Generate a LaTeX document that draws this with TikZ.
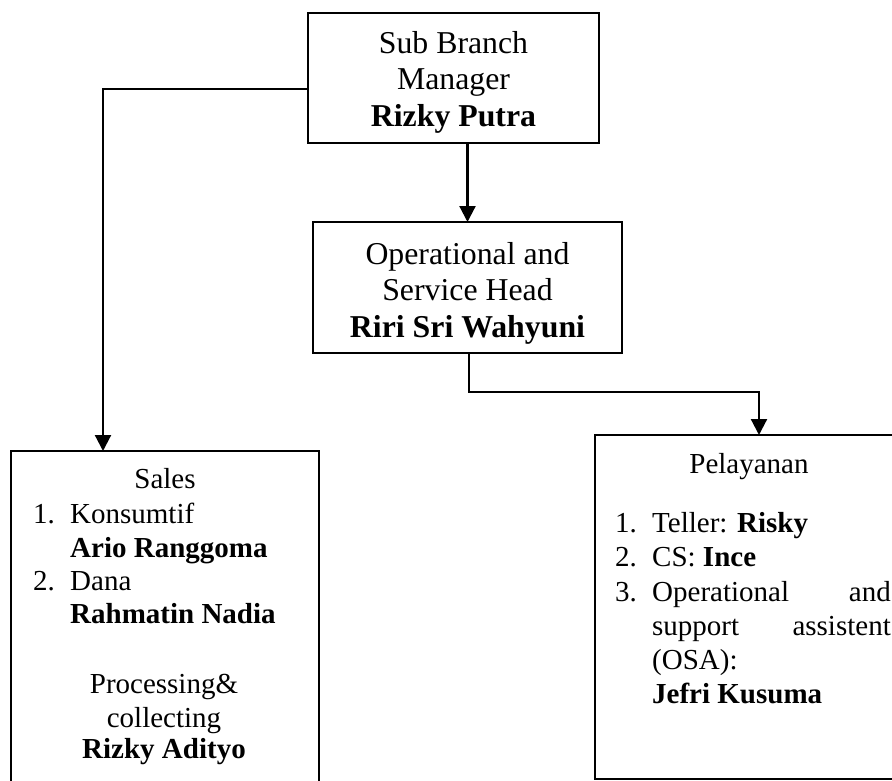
\documentclass[tikz,border=0pt]{standalone}
\usepackage{fontspec}
\setmainfont{Liberation Serif}
\usetikzlibrary{arrows.meta}
\begin{document}
\begin{tikzpicture}[x=1pt,y=-1pt,
  boxst/.style={draw,line width=2.2pt,inner sep=0pt,outer sep=0pt},
  big/.style={font=\fontsize{31.8}{36.5}\selectfont,inner sep=0pt},
  small/.style={font=\fontsize{29}{34}\selectfont,inner sep=0pt},
  conn/.style={line width=2.2pt},
  arr/.style={conn,-{Triangle[width=16pt,length=16pt]}}]
\useasboundingbox (0,0) rectangle (892,781);
% boxes
\node[boxst,minimum width=291pt,minimum height=130pt] (top) at (453.5,78) {};
\node[boxst,minimum width=309pt,minimum height=131pt] (ops) at (467.5,287.5) {};
\node[boxst,minimum width=308pt,minimum height=349pt] (sales) at (165,625.5) {};
\node[boxst,minimum width=308pt,minimum height=344pt] (pel) at (749,607) {};
% top text
\node[big,anchor=base] (t1) at (453.5,54) {Sub Branch};
\node[big,anchor=base] (t2) at (453.5,90) {Manager};
\node[big,anchor=base] (t3) at (453.5,127) {\textbf{Rizky Putra}};
% ops text
\node[big,anchor=base] (o1) at (467.5,264) {Operational and};
\node[big,anchor=base] (o2) at (467.5,300) {Service Head};
\node[big,anchor=base] (o3) at (467.5,337) {\textbf{Riri Sri Wahyuni}};
% sales text
\node[small,anchor=base] (s0) at (165,488) {Sales};
\node[small,anchor=base west] (s1n) at (33,523) {1.};
\node[small,anchor=base west] (s1) at (70,523) {Konsumtif};
\node[small,anchor=base west] (s2) at (70,557) {\textbf{Ario Ranggoma}};
\node[small,anchor=base west] (s3n) at (33,590) {2.};
\node[small,anchor=base west] (s3) at (70,590) {Dana};
\node[small,anchor=base west] (s4) at (70,623) {\textbf{Rahmatin Nadia}};
\node[small,anchor=base] (s5) at (164,693) {Processing\&};
\node[small,anchor=base] (s6) at (164,727) {collecting};
\node[small,anchor=base] (s7) at (164,758) {\textbf{Rizky Adityo}};
% pelayanan text
\node[small,anchor=base] (p0) at (749,473) {Pelayanan};
\node[small,anchor=base west] (p1n) at (615,532) {1.};
\node[small,anchor=base west] (p1) at (652,532) {Teller: \textbf{Risky}};
\node[small,anchor=base west] (p2n) at (615,566) {2.};
\node[small,anchor=base west] (p2) at (652,566) {CS: \textbf{Ince}};
\node[small,anchor=base west] (p3n) at (615,601) {3.};
\node[small,anchor=base west] (p3) at (652,601) {Operational};
\node[small,anchor=base east] (p3b) at (891,601) {and};
\node[small,anchor=base west] (p4) at (652,635) {support};
\node[small,anchor=base east] (p4b) at (891,635) {assistent};
\node[small,anchor=base west] (p5) at (652,669) {(OSA):};
\node[small,anchor=base west] (p6) at (652,703) {\textbf{Jefri Kusuma}};
% connectors
\draw[arr] (ops.north |- top.south) -- (ops.north);
\draw[arr] ([yshift=-11pt]top.west) -| ([xshift=-62pt]sales.north);
\draw[arr] ([xshift=1.5pt]ops.south) -- ++(0,39) -| ([xshift=10pt]pel.north);
\end{tikzpicture}
\end{document}
